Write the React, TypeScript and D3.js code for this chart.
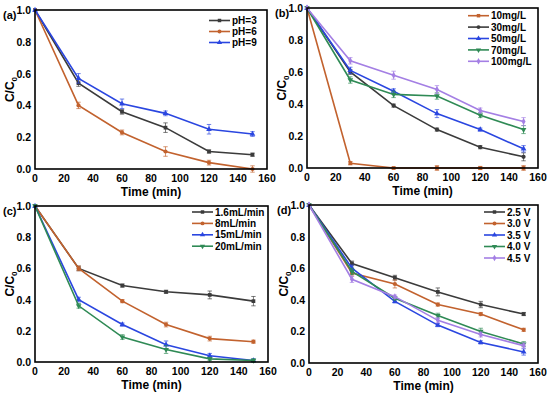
import { useMemo } from 'react'
import * as d3 from 'd3'

const times = [0, 30, 60, 90, 120, 150]
const xTicks = [0, 20, 40, 60, 80, 100, 120, 140, 160]
const yTicks = [0, 0.2, 0.4, 0.6, 0.8, 1.0]

const GRAY = '#3b3b3b'
const ORANGE = '#c2622e'
const BLUE = '#2a46e0'
const GREEN = '#2f8a55'
const PURPLE = '#a47fe4'

// (a) pH
const phNames = ['pH=3', 'pH=6', 'pH=9']
const ph3 = [1.0, 0.54, 0.36, 0.26, 0.11, 0.09]
const ph6 = [1.0, 0.40, 0.23, 0.11, 0.04, 0.0]
const ph9 = [1.0, 0.57, 0.41, 0.35, 0.25, 0.22]
const ph3Err = [0, 0.02, 0.015, 0.03, 0.01, 0.01]
const ph6Err = [0, 0.02, 0.015, 0.03, 0.015, 0.02]
const ph9Err = [0, 0.03, 0.03, 0.015, 0.03, 0.015]

// (b) initial concentration
const concNames = ['10mg/L', '30mg/L', '50mg/L', '70mg/L', '100mg/L']
const c10 = [1.0, 0.03, 0.0, 0.0, 0.0, 0.0]
const c30 = [1.0, 0.60, 0.39, 0.24, 0.13, 0.07]
const c50 = [1.0, 0.61, 0.48, 0.34, 0.24, 0.12]
const c70 = [1.0, 0.55, 0.46, 0.45, 0.33, 0.24]
const c100 = [1.0, 0.67, 0.58, 0.49, 0.36, 0.29]
const c10Err = [0, 0.01, 0.005, 0.015, 0.01, 0.015]
const c30Err = [0, 0.015, 0.01, 0.01, 0.01, 0.025]
const c50Err = [0, 0.02, 0.015, 0.025, 0.01, 0.02]
const c70Err = [0, 0.02, 0.02, 0.02, 0.015, 0.025]
const c100Err = [0, 0.02, 0.025, 0.025, 0.015, 0.025]

// (c) flow rate
const flowNames = ['1.6mL/min', '8mL/min', '15mL/min', '20mL/min']
const f16 = [1.0, 0.60, 0.49, 0.45, 0.43, 0.39]
const f8 = [1.0, 0.60, 0.39, 0.24, 0.15, 0.13]
const f15 = [1.0, 0.40, 0.24, 0.11, 0.04, 0.01]
const f20 = [1.0, 0.36, 0.16, 0.08, 0.02, 0.01]
const f16Err = [0, 0.015, 0.01, 0.01, 0.025, 0.03]
const f8Err = [0, 0.015, 0.01, 0.015, 0.015, 0.01]
const f15Err = [0, 0.015, 0.01, 0.025, 0.015, 0.01]
const f20Err = [0, 0.015, 0.015, 0.025, 0.01, 0.01]

// (d) voltage
const voltNames = ['2.5 V', '3.0 V', '3.5 V', '4.0 V', '4.5 V']
const v25 = [1.0, 0.63, 0.54, 0.45, 0.37, 0.31]
const v30 = [1.0, 0.57, 0.50, 0.37, 0.31, 0.21]
const v35 = [1.0, 0.60, 0.39, 0.24, 0.13, 0.07]
const v40 = [1.0, 0.58, 0.41, 0.30, 0.20, 0.12]
const v45 = [1.0, 0.53, 0.42, 0.27, 0.18, 0.11]
const v25Err = [0, 0.015, 0.015, 0.025, 0.02, 0.01]
const v30Err = [0, 0.02, 0.025, 0.01, 0.01, 0.01]
const v35Err = [0, 0.02, 0.01, 0.01, 0.01, 0.02]
const v40Err = [0, 0.02, 0.01, 0.015, 0.02, 0.015]
const v45Err = [0, 0.02, 0.01, 0.015, 0.015, 0.015]

interface Series {
  name: string
  values: number[]
  err: number[]
  color: string
  symbol: d3.SymbolType
  flip?: boolean
}

interface PanelProps {
  label: string
  series: Series[]
  box: { left: number; right: number; top: number; bottom: number }
  legend: { x: number; y: number; step: number }
}

const FONT = '"Liberation Sans", Arial, sans-serif'

function Panel({ label, series, box, legend }: PanelProps) {
  const x = useMemo(() => d3.scaleLinear().domain([0, 160]).range([box.left, box.right]), [box])
  const y = useMemo(() => d3.scaleLinear().domain([0, 1]).range([box.bottom, box.top]), [box])
  const line = d3.line<number>().x((_, i) => x(times[i])).y(d => y(d))
  const cap = 2.2

  const marker = (s: Series, size: number) =>
    d3.symbol().type(s.symbol).size(size)() || ''

  return (
    <g>
      {/* series lines, error bars and markers */}
      {series.map(s => (
        <g key={s.name}>
          <path d={line(s.values) || ''} fill="none" stroke={s.color} strokeWidth={1.6} />
          {s.values.map((v, i) => {
            const e = s.err[i]
            if (!e) return null
            const cx = x(times[i])
            return (
              <g key={i} stroke={s.color} strokeOpacity={0.75} strokeWidth={0.9}>
                <line x1={cx} x2={cx} y1={y(v + e)} y2={y(v - e)} />
                <line x1={cx - cap} x2={cx + cap} y1={y(v + e)} y2={y(v + e)} />
                <line x1={cx - cap} x2={cx + cap} y1={y(v - e)} y2={y(v - e)} />
              </g>
            )
          })}
          {s.values.map((v, i) => (
            <path
              key={'m' + i}
              d={marker(s, 14)}
              transform={`translate(${x(times[i])},${y(v)})${s.flip ? ' rotate(180)' : ''}`}
              fill={s.color}
            />
          ))}
        </g>
      ))}

      {/* frame */}
      <rect
        x={box.left}
        y={box.top}
        width={box.right - box.left}
        height={box.bottom - box.top}
        fill="none"
        stroke="#000"
        strokeWidth={1.6}
      />

      {/* tick labels */}
      {xTicks.map(t => (
        <text
          key={'x' + t}
          x={x(t)}
          y={box.bottom + 13}
          textAnchor="middle"
          fontSize={10.5}
          fontWeight="bold"
          fontFamily={FONT}
        >
          {t}
        </text>
      ))}
      {yTicks.map(t => (
        <text
          key={'y' + t}
          x={box.left - 4}
          y={y(t) + 4}
          textAnchor="end"
          fontSize={10.5}
          fontWeight="bold"
          fontFamily={FONT}
        >
          {t.toFixed(1)}
        </text>
      ))}

      {/* axis titles */}
      <text
        x={(box.left + box.right) / 2}
        y={box.bottom + 27}
        textAnchor="middle"
        fontSize={12}
        fontWeight="bold"
        fontFamily={FONT}
      >
        Time (min)
      </text>
      <text
        transform={`translate(${box.left - 21},${(box.top + box.bottom) / 2}) rotate(-90)`}
        textAnchor="middle"
        fontSize={12}
        fontWeight="bold"
        fontFamily={FONT}
      >
        C/C<tspan fontSize={8} dy={3}>0</tspan>
      </text>

      {/* panel label */}
      <text
        x={box.left - 32}
        y={box.top + 9}
        fontSize={11}
        fontWeight="bold"
        fontFamily={FONT}
      >
        {label}
      </text>

      {/* legend */}
      {series.map((s, i) => {
        const ly = legend.y + i * legend.step
        return (
          <g key={'l' + s.name}>
            <line x1={legend.x} x2={legend.x + 21} y1={ly} y2={ly} stroke={s.color} strokeWidth={1.6} />
            <path
              d={marker(s, 12)}
              transform={`translate(${legend.x + 10.5},${ly})${s.flip ? ' rotate(180)' : ''}`}
              fill={s.color}
            />
            <text
              x={legend.x + 23}
              y={ly + 3.6}
              fontSize={10}
              fontWeight="bold"
              fontFamily={FONT}
            >
              {s.name}
            </text>
          </g>
        )
      })}
    </g>
  )
}

const triDown = d3.symbolTriangle

export default function App() {
  const seriesA: Series[] = [
    { name: phNames[0], values: ph3, err: ph3Err, color: GRAY, symbol: d3.symbolSquare },
    { name: phNames[1], values: ph6, err: ph6Err, color: ORANGE, symbol: d3.symbolCircle },
    { name: phNames[2], values: ph9, err: ph9Err, color: BLUE, symbol: d3.symbolTriangle }
  ]
  const seriesB: Series[] = [
    { name: concNames[0], values: c10, err: c10Err, color: ORANGE, symbol: d3.symbolSquare },
    { name: concNames[1], values: c30, err: c30Err, color: GRAY, symbol: d3.symbolCircle },
    { name: concNames[2], values: c50, err: c50Err, color: BLUE, symbol: d3.symbolTriangle },
    { name: concNames[3], values: c70, err: c70Err, color: GREEN, symbol: triDown, flip: true },
    { name: concNames[4], values: c100, err: c100Err, color: PURPLE, symbol: d3.symbolDiamond }
  ]
  const seriesC: Series[] = [
    { name: flowNames[0], values: f16, err: f16Err, color: GRAY, symbol: d3.symbolSquare },
    { name: flowNames[1], values: f8, err: f8Err, color: ORANGE, symbol: d3.symbolCircle },
    { name: flowNames[2], values: f15, err: f15Err, color: BLUE, symbol: d3.symbolTriangle },
    { name: flowNames[3], values: f20, err: f20Err, color: GREEN, symbol: triDown, flip: true }
  ]
  const seriesD: Series[] = [
    { name: voltNames[0], values: v25, err: v25Err, color: GRAY, symbol: d3.symbolSquare },
    { name: voltNames[1], values: v30, err: v30Err, color: ORANGE, symbol: d3.symbolCircle },
    { name: voltNames[2], values: v35, err: v35Err, color: BLUE, symbol: d3.symbolTriangle },
    { name: voltNames[3], values: v40, err: v40Err, color: GREEN, symbol: triDown, flip: true },
    { name: voltNames[4], values: v45, err: v45Err, color: PURPLE, symbol: d3.symbolDiamond }
  ]

  return (
    <div style={{ position: 'absolute', left: 0, top: 0 }}>
      <svg width={550} height={393} style={{ display: 'block', background: '#fff' }}>
        <Panel
          label="(a)"
          series={seriesA}
          box={{ left: 35, right: 267, top: 10, bottom: 169 }}
          legend={{ x: 209, y: 20.5, step: 11 }}
        />
        <Panel
          label="(b)"
          series={seriesB}
          box={{ left: 307, right: 538, top: 8, bottom: 168 }}
          legend={{ x: 468, y: 15.7, step: 11.4 }}
        />
        <Panel
          label="(c)"
          series={seriesC}
          box={{ left: 35, right: 268, top: 206, bottom: 362 }}
          legend={{ x: 192, y: 212, step: 11.4 }}
        />
        <Panel
          label="(d)"
          series={seriesD}
          box={{ left: 309, right: 538, top: 205, bottom: 363 }}
          legend={{ x: 484, y: 212, step: 11.5 }}
        />
      </svg>
    </div>
  )
}
